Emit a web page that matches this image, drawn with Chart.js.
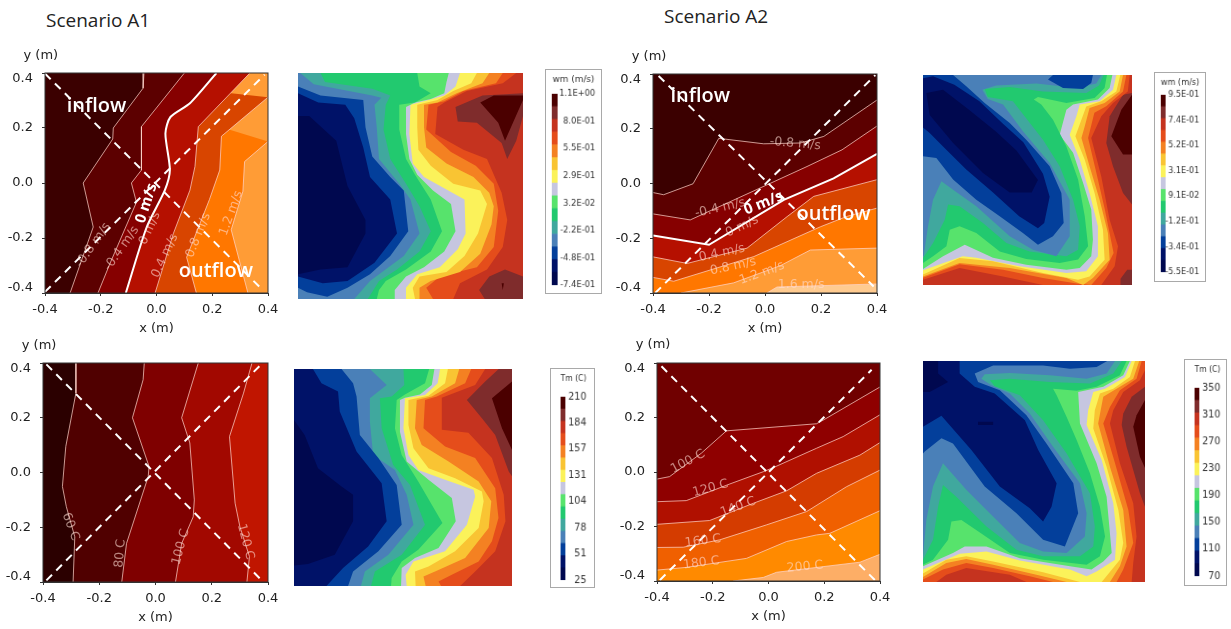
<!DOCTYPE html>
<html>
<head>
<meta charset="utf-8">
<title>Scenario A1 / A2</title>
<script src="https://cdn.jsdelivr.net/npm/chart.js"></script>
<style>
  html, body { margin: 0; background: #fff; }
  body { position: relative; width: 1231px; height: 629px; overflow: hidden; }
  canvas { position: absolute; filter: blur(0.45px); }
  canvas.key { border: 1px solid #a9a9a9; box-sizing: content-box; }
  .scenario { position: absolute; font: 19px "Open Sans", sans-serif; color: #222; }
</style>
</head>
<body>
<div class="scenario" style="left:46px;top:7px">Scenario A1</div>
<div class="scenario" style="left:664px;top:3px">Scenario A2</div>
<script>
// ---- axes and colour keys ----
const axisTicks = [-0.4, -0.2, 0, 0.2, 0.4];
const wA1Key = ['1.1E+00', '8.0E-01', '5.5E-01', '2.9E-01', '3.2E-02', '-2.2E-01', '-4.8E-01', '-7.4E-01'];
const wA2Key = ['9.5E-01', '7.4E-01', '5.2E-01', '3.1E-01', '9.1E-02', '-1.2E-01', '-3.4E-01', '-5.5E-01'];
const tA1Key = ['210', '184', '157', '131', '104', '78', '51', '25'];
const tA2Key = ['350', '310', '270', '230', '190', '150', '110', '70'];
const keyBands = ['#4b0000', '#7f2c2c', '#c5331f', '#e54d1b', '#f48122', '#f9c433', '#fbf25a', '#c6c6e0',
  '#57e36c', '#22c96f', '#40a89e', '#4a80b8', '#033f9b', '#001268', '#00084f'];

// colours of the left hand contour maps, lowest value first
const wHot = ['#3b0000', '#5c0000', '#860000', '#b51000', '#d84500', '#ff7700', '#ff9c36', '#ffcb90'];
const tA1Hot = ['#2b0000', '#500000', '#7f0000', '#a20800', '#c01500'];
const tA2Hot = ['#700000', '#8f0000', '#b01000', '#d43c00', '#f06000', '#ff8a00', '#fdae66'];

const metreSquare = [[-0.4, -0.4], [0.4, -0.4], [0.4, 0.4], [-0.4, 0.4]];
const percentSquare = [[0, 0], [100, 0], [100, 100], [0, 100]];

// ---- A1 velocity contours, x and y in metres ----
const wA1m08 = [[-0.045, 0.4], [-0.048, 0.345], [-0.155, 0.2], [-0.157, 0.16], [-0.263, 0], [-0.227, -0.16], [-0.31, -0.4]];
const wA1m04 = [[0.1, 0.4], [-0.054, 0.205], [-0.054, 0.047], [-0.09, 0], [-0.072, -0.07], [-0.167, -0.293], [-0.21, -0.4]];
const wA1z = [[0.215, 0.4], [0.12, 0.29], [0.05, 0.24], [0.032, 0.18], [0.048, 0.047], [0.03, -0.026], [-0.035, -0.16], [-0.11, -0.4]];
const wA1p04 = [[0.335, 0.4], [0.15, 0.205], [0.138, 0.06], [0.12, -0.026], [0.06, -0.185], [-0.005, -0.4]];
const wA1p08 = [[0.4, 0.312], [0.233, 0.17], [0.227, 0.047], [0.19, -0.06], [0.108, -0.27], [0.143, -0.4]];
const wA1p12 = [[0.4, 0.151], [0.316, 0.078], [0.31, -0.03], [0.268, -0.17], [0.328, -0.4]];
const wA1Diag1 = [[-0.4, 0.398], [0.37, -0.378]];
const wA1Diag2 = [[-0.4, -0.396], [0.388, 0.394]];

// ---- A2 velocity contours ----
const wA2m08 = [[-0.4, -0.033], [-0.362, -0.041], [-0.257, -0.001], [-0.165, 0.165], [-0.005, 0.145], [0.126, 0.148], [0.21, 0.172], [0.4, 0.305]];
const wA2m04 = [[-0.4, -0.111], [-0.267, -0.133], [0.007, -0.005], [0.15, 0.062], [0.275, 0.123], [0.4, 0.21]];
const wA2z = [[-0.4, -0.19], [-0.2, -0.224], [0.067, -0.06], [0.245, 0.019], [0.4, 0.108]];
const wA2p04 = [[-0.4, -0.268], [-0.278, -0.292], [-0.064, -0.236], [0.079, -0.121], [0.174, -0.047], [0.4, 0.014]];
const wA2p08 = [[-0.4, -0.343], [-0.326, -0.357], [-0.04, -0.267], [0.198, -0.158], [0.293, -0.12], [0.4, -0.09]];
const wA2p12 = [[-0.3, -0.4], [-0.112, -0.363], [0.055, -0.3], [0.162, -0.243], [0.4, -0.236]];
const wA2p16 = [[0.007, -0.4], [0.043, -0.378], [0.4, -0.367]];
const wA2Diag1 = [[-0.38, 0.393], [0.388, -0.376]];
const wA2Diag2 = [[-0.392, -0.4], [0.394, 0.396]];

// ---- A1 temperature contours ----
const tA1c60 = [[-0.283, 0.4], [-0.283, 0.29], [-0.319, 0.095], [-0.331, -0.051], [-0.317, -0.125], [-0.287, -0.235], [-0.293, -0.4]];
const tA1c80 = [[-0.04, 0.4], [-0.044, 0.339], [-0.082, 0.2], [-0.023, 0.022], [-0.026, -0.015], [-0.103, -0.259], [-0.12, -0.4]];
const tA1c100 = [[0.152, 0.4], [0.093, 0.2], [0.122, 0.108], [0.138, -0.1], [0.134, -0.162], [0.093, -0.259], [0.071, -0.4]];
const tA1c120 = [[0.343, 0.4], [0.313, 0.29], [0.263, 0.131], [0.283, -0.112], [0.3, -0.198], [0.334, -0.307], [0.325, -0.4]];
const tA1Diag1 = [[-0.388, 0.395], [0.372, -0.388]];
const tA1Diag2 = [[-0.388, -0.394], [0.372, 0.391]];

// ---- A2 temperature contours ----
const tA2c100 = [[-0.4, -0.026], [-0.355, -0.017], [-0.241, 0.069], [-0.151, 0.151], [0.172, 0.177], [0.199, 0.192], [0.4, 0.312]];
const tA2c120 = [[-0.4, -0.109], [-0.295, -0.105], [-0.139, -0.044], [-0.019, 0.001], [0.017, 0.016], [0.172, 0.087], [0.268, 0.13], [0.4, 0.21]];
const tA2c140 = [[-0.4, -0.192], [-0.211, -0.178], [-0.055, -0.115], [0.065, -0.069], [0.172, -0.005], [0.328, 0.062], [0.4, 0.108]];
const tA2c160 = [[-0.4, -0.277], [-0.306, -0.276], [-0.175, -0.249], [-0.007, -0.194], [0.137, -0.145], [0.28, -0.054], [0.4, 0.007]];
const tA2c180 = [[-0.4, -0.36], [-0.295, -0.35], [-0.079, -0.317], [0.065, -0.255], [0.172, -0.231], [0.22, -0.225], [0.4, -0.142]];
const tA2c200 = [[-0.127, -0.4], [-0.019, -0.387], [0.029, -0.368], [0.328, -0.331], [0.4, -0.302]];
const tA2Diag1 = [[-0.384, 0.388], [0.382, -0.397]];
const tA2Diag2 = [[-0.39, -0.397], [0.37, 0.375]];

// ---- contour labels: text, x, y, rotation, kind ----
const wA1Notes = [['y (m)', -0.415, 0.465, 0, 'axis'], ['inflow', -0.215, 0.278, 0, 'flow'], ['outflow', 0.213, -0.32, 0, 'flow'],
  ['0 m/s', -0.036, -0.074, -72, 'zero'], ['-0.8 m/s', -0.227, -0.226, -55, 'iso'], ['-0.4 m/s', -0.125, -0.238, -55, 'iso'],
  ['0 m/s', -0.024, -0.165, -65, 'iso'], ['0.4 m/s', 0.03, -0.265, -65, 'iso'], ['0.8 m/s', 0.15, -0.19, -68, 'iso'], ['1.2 m/s', 0.268, -0.11, -70, 'iso']];
const wA2Notes = [['y (m)', -0.414, 0.464, 0, 'axis'], ['inflow', -0.231, 0.32, 0, 'flow'], ['outflow', 0.245, -0.114, 0, 'flow'],
  ['0 m/s', -0.005, -0.072, -22, 'zero'], ['-0.8 m/s', 0.108, 0.145, 5, 'iso'], ['-0.4 m/s', -0.16, -0.09, -13, 'iso'],
  ['0 m/s', -0.082, -0.157, -25, 'iso'], ['0.4 m/s', -0.154, -0.254, -12, 'iso'], ['0.8 m/s', -0.114, -0.303, -12, 'iso'],
  ['1.2 m/s', -0.011, -0.327, -20, 'iso'], ['1.6 m/s', 0.129, -0.37, 0, 'iso']];
const tA1Notes = [['y (m)', -0.414, 0.462, 0, 'axis'], ['60 C', -0.302, -0.198, 70, 'iso'], ['80 C', -0.125, -0.296, -85, 'iso'],
  ['100 C', 0.09, -0.272, -75, 'iso'], ['120 C', 0.32, -0.253, 75, 'iso']];
const tA2Notes = [['y (m)', -0.414, 0.466, 0, 'axis'], ['100 C', -0.289, 0.038, -28, 'iso'], ['120 C', -0.208, -0.06, -15, 'iso'],
  ['140 C', -0.109, -0.128, -20, 'iso'], ['160 C', -0.235, -0.253, -7, 'iso'], ['180 C', -0.241, -0.334, -7, 'iso'], ['200 C', 0.131, -0.348, -5, 'iso']];

// ---- filled maps on the right, percent of the frame from top left ----
const wA1Darkest = [[0,19],[5,19],[17,30],[22,50],[30,65],[30,71],[22,86],[10,87],[0,89]];
const wA1Navy = [[0,9],[9,13],[21,14],[25,20],[29,33],[32,46],[41,56],[44,71],[34,84],[22,92],[11,93],[0,90]];
const wA1Blue = [[0,6],[10,10],[29,12],[30,24],[33,37],[41,46],[47,52],[49,70],[41,81],[32,89],[22,95],[13,99],[4,97],[0,95]];
const wA1Steel = [[1,0],[7,5],[33,10],[37,11],[34,14],[35,24],[36,38],[45,49],[50,56],[54,71],[47,81],[32,92],[25,100]];
const wA1Teal = [[10,0],[12,4],[33,7],[41,10],[39,14],[38,25],[41,38],[48,49],[54,59],[59,70],[54,79],[44,87],[36,92],[31,100]];
const wA1Green = [[53,0],[54,6],[59,9],[52,13],[45,14],[45,25],[48,38],[52,45],[59,56],[64,70],[59,79],[48,87],[39,92],[36,96],[35,100]];
const wA1Light = [[67,0],[66,4],[65,9],[59,11.5],[52,13],[48,15],[48,27],[49.5,38],[53,45],[60,52],[68,58],[70,70],[65,79],[56,86],[48,90],[43,96],[43,100]];
const wA1Lav = [[72,0],[70,6],[65,10],[58,12],[50,14],[49.5,27],[51,40],[56,46],[65,51],[74,56],[74.5,71],[71,78],[63,86],[53,89],[48,95],[48,100]];
const wA1Yellow = [[79.5,0],[77,4.5],[69,8],[62,12],[53,14],[53,24],[53.5,34],[59,41],[69,49],[81,52],[84,58],[80,71],[74,81],[66,88],[54,90],[51,95],[52,100]];
const wA1Amber = [[85,0],[82,4.5],[70.5,9],[62,13],[56,14],[56,24],[57,33],[66,40],[78,46],[85,53],[87,59],[86,67],[81,80],[72,88],[59,92],[54,95],[54,100]];
const wA1Orange = [[91,0],[88,4.5],[73.5,8],[65,12.5],[58,14],[57,25],[68,35],[79,41],[87,49],[89,61],[87,77],[79.5,86],[63,90],[57,95],[60,100]];
const wA1Ember = [[97,0],[91,4.5],[75,8],[65,13],[62,15],[61,27],[73.5,34],[84,38],[90.5,53],[93,65],[91,77],[84,87],[72,93],[69,100]];
const wA1Brown = [[70,15],[82,10],[100,9],[100,19],[97,30],[93,38],[90.5,31],[79.5,22],[71,21.5]];
const wA1Maroon = [[81,13],[87,10],[100,10],[100,12],[92,30],[89,22]];
const wA1BrownLow = [[80.5,96],[85,90],[92,87],[100,90],[100,100],[83,100]];
const wA1Drop = [[90.5,93],[91.5,93],[91,96]];

const wA2Darkest = [[1.6,8.6],[9.6,7],[22,16.5],[35,27],[44.7,36],[55,50],[52,56],[41.5,56],[28.7,46.7],[14.4,32.4],[3.2,19]];
const wA2Navy = [[0,1.5],[4.8,0.6],[15,4.6],[27,12.5],[38,23],[48,32],[57.4,47],[60.6,58],[58,70.5],[55,73],[46,67.3],[33.5,56],[20.7,45],[9.6,34],[3.2,27.6],[0,25]];
const wA2Blue = [[14.4,0],[20.7,5.4],[29.5,13.3],[41.5,22.9],[49.4,30.8],[60.6,43.5],[66.2,56.2],[67.3,70.5],[62.2,76.8],[55,80.8],[47.8,75.2],[36.7,67.3],[25.5,59.4],[14.4,49.8],[6.4,39.5],[0,38.7]];
const wA2BlueTop = [[59.8,2.2],[62.2,0],[81.3,0],[80.5,3.8],[76.6,6.7],[67,6.2]];
const wA2Steel = [[85.3,0],[82.9,4.1],[73.4,6.2],[54.2,4.1],[35,5],[28.4,7],[31,11.4],[38.3,14.1],[47.8,26.8],[60.6,41.9],[70.2,59.4],[70.2,76.8],[63.8,86.3],[52.6,83.2],[41.5,76.8],[25.5,62.5],[14.4,54.6],[8.8,50.6],[4.8,59.4],[2.4,72],[0.3,86.3]];
const wA2Teal = [[86.4,0],[84.2,5],[78.1,8.6],[57.4,7.8],[41.5,5.7],[29.5,6.7],[31,10.5],[43,12.5],[48.6,19.7],[57.4,30.8],[65.4,43.5],[71.8,59.4],[75,72],[74.2,83.2],[68.6,86.3],[51,84],[39.9,80],[28.7,70.5],[17.5,62.5],[12,61.7],[10.4,68.9],[4.8,80],[0,87.1]];
const wA2Green = [[88,0],[86.9,6.2],[82.1,11],[68.6,13.3],[55,10.5],[53,11.7],[56.6,14.1],[62.2,21.3],[68.6,34],[74.2,49.8],[77.4,67.3],[79,81.6],[74.2,87.9],[65.4,89.5],[49.4,87.6],[36.7,84],[25.5,75.2],[17.5,72],[12.8,73.7],[11.2,81.6],[4.8,86.3],[0,89.5]];
const wA2Light = [[90.6,0],[89.3,6.2],[83.7,11.7],[71.8,14.1],[68.6,16.5],[65.4,28.4],[71.8,37],[76.6,51.4],[80.5,64],[81.3,78.4],[80.5,86.3],[75,91.9],[68.6,92.7],[49.4,90.3],[33.5,87],[20,80.8],[9.6,86.3],[0,92.4]];
const wA2Lav = [[92.5,0],[90.9,7],[84.5,12.5],[75,14.1],[73.4,19.7],[70.2,28.4],[75,40.3],[79.7,56.2],[83.7,72],[83.7,86.3],[78.1,93.5],[68.6,94.3],[46.3,91.1],[25.5,87],[19,86.3],[0,93]];
const wA2Yellow = [[94.4,0],[92.5,7.8],[85.3,12.5],[78.1,15],[75.8,21.3],[72.9,29.2],[77.4,40.3],[82.1,56.2],[86.1,73.7],[86.9,88],[79.7,95.9],[74.2,97.5],[57.4,94.3],[33.5,88.7],[17.5,87.1],[0,95]];
const wA2Amber = [[95.7,0],[94.1,7.8],[86.9,13.3],[79.7,15.7],[77.4,24.4],[75.8,30],[79.7,43.5],[84.5,59.4],[88.5,75.2],[89.3,88],[81.3,96.7],[76.6,100],[68.6,96.7],[41.5,91.9],[17.5,89.5],[0,95.9]];
const wA2Orange = [[97.3,0],[95.7,7.8],[87.7,14.9],[82,18],[79,30],[83,46.8],[87,64],[91.2,84.8],[87.7,91.9],[80.5,100],[74.2,99.4],[57.4,96.7],[38.3,92.7],[17.5,90.1],[0,96.5]];
const wA2Ember = [[98.9,0],[98,7.8],[90.9,13.3],[85.3,19.7],[80.5,30],[85.3,48.3],[89.3,68.9],[93.3,81.6],[91.7,91.1],[85.3,100],[71.8,100],[57.4,100],[38.3,95.9],[17.5,91.9],[0,97.5]];
const wA2Brown = [[95.7,9.4],[89.3,19.7],[87.7,32.4],[90.9,43.5],[95.7,56.2],[100,61.7],[100,8.6]];
const wA2Maroon = [[100,9.4],[94.9,16.5],[90.1,29.2],[95.7,37.9],[100,37.9]];
const wA2BrownLow = [[94.5,97],[97.7,92.7],[100,92.7],[100,100],[94.5,100]];

const tA1Darkest = [[0,23.5],[4.9,30.4],[11,45.7],[21.8,54.1],[27.1,58],[27.1,70.2],[18.7,85.6],[6.4,89.9],[0,90.5]];
const tA1Navy = [[8.7,0],[12.6,6.6],[20.2,10.4],[21,19.6],[28.7,38],[40.2,52.6],[42.5,70.2],[34,81.8],[22.5,91.7],[14.9,100]];
const tA1Blue = [[21.8,0],[27.1,6.6],[28.7,12.7],[30.2,30.4],[38.7,41],[47.1,53.4],[49.4,71.8],[38.7,84],[27.1,93.3],[24.8,100]];
const tA1Steel = [[34.8,0],[42.5,7.4],[34.8,13.5],[34.8,24.2],[36.3,39.6],[46.3,46.5],[51.7,58],[54.8,71.8],[43.3,85.6],[32.5,93.3],[30.7,100]];
const tA1Teal = [[50.2,0],[50.6,7.4],[44.8,12.7],[39.4,13.5],[40.2,27.3],[45.5,44.2],[53.2,53.4],[60.1,71.8],[49.4,85.6],[37.1,93.3],[35.3,100]];
const tA1Green = [[62,0],[60.1,6.6],[50.9,11.7],[47.1,14.3],[46.3,27.3],[49.4,39.6],[57,51.8],[68.1,71],[57,83.3],[49.4,88.7],[44.8,96.3],[44.5,100]];
const tA1Light = [[64.4,0],[63.2,7.4],[57.8,11.7],[50.9,13.2],[48.6,14.3],[48.6,28.9],[51.7,42.6],[61.7,51],[72.4,59.5],[74.2,70.2],[66.3,82.5],[55.5,87.1],[49.4,91.7],[49.1,100]];
const tA1Lav = [[67,0],[65.9,6.6],[60.1,12],[50.9,13.5],[50.2,27.3],[52.5,39.6],[57,46.5],[69.3,51],[82.4,55.7],[83.1,58.8],[79.3,71.8],[69.3,84],[54.8,88.7],[51.2,94.8],[51.7,100]];
const tA1Yellow = [[70.6,0],[69.3,6.6],[61.7,12.3],[52.5,14.3],[52.5,25.8],[54.8,36.5],[61.7,45.7],[73.9,50.3],[86.2,56.4],[87,61],[84.7,73.3],[73.9,84],[61.7,91],[55.5,93.3],[55.8,100]];
const tA1Amber = [[75.8,0],[73.9,6.6],[63.2,12.7],[56.3,14.3],[55.5,27.3],[58.6,35],[70.9,42.6],[84.7,51.8],[90.5,61],[89.3,73.3],[78.5,87.1],[64.7,93.3],[59.4,95.6],[60.4,100]];
const tA1Orange = [[81.3,0],[78.5,6.6],[65.5,12.7],[60.1,14.3],[59.4,27.3],[69.3,35.7],[83.1,41],[92.3,54.9],[93.8,68.7],[90.8,79.4],[84.7,88.7],[72.4,94.8],[66.3,97.9],[67.5,100]];
const tA1Ember = [[87.7,0],[83.1,7.4],[67.8,13.2],[67.8,28],[80,29.4],[90.8,41],[96.2,57.9],[97,70.2],[92.3,84],[83.1,93.3],[76.2,100]];
const tA1Brown = [[93.9,0],[87.7,5.8],[79.3,14.3],[86.2,22.7],[92.3,30.4],[98.5,47.2],[100,49.4],[100,0]];
const tA1Maroon = [[100,5.8],[90.8,13.5],[95.4,27.3],[100,37.3]];

const tA2Dark1 = [[0,0],[6.8,0],[6.8,5.7],[11.3,9.5],[3,14],[0,14]];
const tA2Dark2 = [[24.8,27.5],[31.6,27.5],[31.6,29],[24.8,29]];
const tA2Navy = [[16.5,0],[16.5,5.7],[23.3,11.7],[32.3,14.7],[45.9,26.8],[51.9,40.3],[60.2,55.3],[57.9,65.9],[54.1,72.6],[48.1,66.6],[34.6,56.8],[21.8,40.3],[8.3,24.8],[0,29.8]];
const tA2Blue = [[83,0],[78.2,2.7],[66.2,3.5],[54.1,2],[31.6,2],[23.3,5.7],[24.8,9.5],[34.6,13.2],[46.6,24.5],[55.6,37.3],[67.7,55.3],[69.9,68.9],[63.9,83.9],[54.1,80.9],[42.1,68.9],[27.8,56.8],[13.5,37.3],[8.3,35],[0.8,41],[0,41.8]];
const tA2Steel = [[86.5,0],[82.7,5.7],[73.7,8],[57.1,6.5],[39.1,5.4],[27.8,6],[26.3,8],[30.8,11],[39.1,14.7],[48.1,23.8],[58.6,38.8],[70.7,55.3],[73.7,68.9],[72.9,79.4],[64.7,86.9],[54.1,86.2],[43.6,82.4],[30.1,68.9],[19.5,58.3],[9,46.3],[4.5,56.8],[1.5,71.9],[0,88.4]];
const tA2Teal = [[89.5,0],[85.7,5.7],[75.2,10.2],[57.1,9.5],[39.1,8],[30.1,8.7],[32.3,11.4],[43.6,15.5],[54.1,26.8],[64.7,41.8],[75.2,59.8],[77.4,74.9],[76.7,83.9],[70.7,88.4],[54.1,88.4],[42.1,85.4],[28.6,74.9],[15,61.4],[9,56.1],[6.8,65.9],[4.5,80.9],[0,89.9]];
const tA2Green = [[91.7,0],[88.7,6.5],[78.2,11.7],[69.2,13.5],[58.6,12.5],[60.2,15.5],[64.7,25.3],[69.2,35.8],[75.2,50.8],[79.7,65.9],[82,79.4],[79.7,88.4],[73.7,92.2],[54.1,89.9],[39.1,86.9],[27.1,78.6],[17.3,71.9],[12.8,72.6],[11.3,80.9],[4.5,89.9],[0,92.2]];
const tA2Light = [[93.2,0],[90.2,6.5],[81.2,11.7],[69.9,14],[70.7,28.3],[78.2,46.3],[82.7,61.4],[84.2,77.9],[85,86.9],[81.2,90.7],[75.9,94.4],[66.2,92.9],[43.6,89.2],[28.6,83.9],[18.8,83.9],[13.5,86.9],[0,92.9]];
const tA2Lav = [[94,0],[91,7.2],[82,12.5],[76.7,14],[74.4,22.3],[73.7,29],[80.5,44.8],[85.7,64.4],[87.2,77.9],[86.5,89.9],[78.2,95.2],[73.7,97.4],[66.2,94.4],[43.6,90.3],[28.6,86.2],[16.5,87.2],[0,94.4]];
const tA2Yellow = [[95.5,0],[93.2,7.2],[85.7,12.5],[79.7,14.7],[77.4,22.3],[76.7,30.5],[82.7,47.8],[88,67.4],[90.2,82.4],[88.7,89.9],[80.5,100],[70.7,100],[54.1,95.6],[31.6,90.7],[19.5,88.4],[10.5,89.9],[0,96.2]];
const tA2Amber = [[97.4,0],[94.7,8],[87.2,12.5],[81.2,16.2],[78.9,28.3],[84.2,47.8],[90.2,67.4],[91.7,83.9],[88.7,92.9],[84.2,100],[64.7,100],[51.1,96.7],[31.6,92.2],[19.5,89.6],[10.5,91.4],[0,97.7]];
const tA2Orange = [[98.5,0],[96.2,8],[88.7,13.2],[84.2,20.8],[81.2,28.3],[86.5,46.3],[92.5,67.4],[94.7,82.4],[90.2,94.4],[87.2,100],[58.6,100],[48.1,97.4],[31.6,93.7],[19.5,91.4],[9,94.4],[0,98.9]];
const tA2Ember = [[100,0],[100,4.2],[97.7,8.7],[90.2,14],[85.7,22.3],[84.2,28.3],[88.7,46.3],[94.7,64.4],[96.2,79.4],[94.7,91.4],[94,100],[46.6,100],[39.1,96.7],[19.5,93.7],[10.5,96.7],[6,100],[0,100]];
const tA2Brown = [[100,11.7],[94,16.2],[90.2,23.8],[89.5,29],[91.7,38.8],[97.7,59.8],[100,65.9]];
const tA2Maroon = [[100,17.7],[96.2,24.5],[94.7,29.8],[97.7,43.3],[100,48.4]];

// ---- helpers ----
Chart.defaults.animation = false;
Chart.defaults.responsive = false;
Chart.defaults.devicePixelRatio = 1;
Chart.defaults.font.family = '"DejaVu Sans", sans-serif';
Chart.defaults.color = '#222';

function addCanvas(left, top, w, h, cls) {
    const c = document.createElement('canvas');
    c.width = w;
    c.height = h;
    c.style.left = left + 'px';
    c.style.top = top + 'px';
    if (cls) c.className = cls;
    document.body.appendChild(c);
    return c;
}

function area(points, color) {
    return { data: points, backgroundColor: color, showLine: true, fill: 'shape', borderWidth: 0, pointRadius: 0 };
}

function contour(points, color, width, dash, tension) {
    return { data: points, borderColor: color, borderWidth: width, borderDash: dash || [], tension: tension || 0, showLine: true, fill: false, pointRadius: 0 };
}

const noteStyles = {
    axis: { font: '13px "DejaVu Sans"', color: '#222' },
    flow: { font: '600 20px "Open Sans"', color: '#fff' },
    zero: { font: 'bold 15px "Open Sans"', color: '#fff' },
    iso: { font: '12.5px "DejaVu Sans"', color: 'rgba(255,222,212,0.6)' }
};

// rotated labels and the plot frame, placed through the chart scales
function notesPlugin(notes) {
    return {
        id: 'notes',
        afterDraw(chart) {
            const { ctx, scales, chartArea: a } = chart;
            ctx.save();
            ctx.strokeStyle = '#333';
            ctx.lineWidth = 1;
            ctx.strokeRect(a.left, a.top, a.right - a.left, a.bottom - a.top);
            ctx.textAlign = 'center';
            ctx.textBaseline = 'middle';
            notes.forEach(([text, x, y, rot, kind]) => {
                ctx.save();
                ctx.translate(scales.x.getPixelForValue(x), scales.y.getPixelForValue(y));
                ctx.rotate(rot * Math.PI / 180);
                ctx.font = noteStyles[kind].font;
                ctx.fillStyle = noteStyles[kind].color;
                ctx.fillText(text, 0, 0);
                ctx.restore();
            });
            ctx.restore();
        }
    };
}

// first and last y label sit inside the frame, an empty line pushes them in
function yLabel(v) {
    if (v === 0.4) return ['', '0.4'];
    if (v === -0.4) return ['-0.4', ''];
    return v.toFixed(1);
}

function metreAxis(title, size) {
    return {
        type: 'linear', min: -0.4, max: 0.4,
        afterBuildTicks: s => { s.ticks = axisTicks.map(v => ({ value: v })); },
        afterFit: s => { if (s.isHorizontal()) s.height = size; else s.width = size; },
        border: { color: '#333' },
        grid: { drawOnChartArea: false, tickLength: 3, color: '#333' },
        ticks: { font: { size: 13, lineHeight: title ? 1.2 : 0.85 }, padding: title ? 6 : 9, maxRotation: 0, callback: title ? v => v.toFixed(1) : yLabel },
        title: { display: !!title, text: title, font: { size: 13 }, padding: { top: 2, bottom: 3 }, color: '#222' }
    };
}

// left hand map with axes; frame is left, top, right, bottom of the plot
function contourMap(frame, areas, lines, notes) {
    const [l, t, r, b] = frame;
    const canvas = addCanvas(0 + l - 45, t - 32, r - l + 45 + 22, b - t + 32 + 46);
    new Chart(canvas, {
        type: 'scatter',
        data: { datasets: [...areas, ...lines].reverse() },
        options: {
            layout: { padding: { top: 32, right: 22 } },
            plugins: { legend: { display: false }, tooltip: { enabled: false } },
            scales: { x: metreAxis('x (m)', 46), y: metreAxis('', 45) }
        },
        plugins: [notesPlugin(notes)]
    });
}

// right hand map, no axes on show
function fieldMap(frame, layers) {
    const [l, t, r, b] = frame;
    const canvas = addCanvas(l, t, r - l, b - t);
    new Chart(canvas, {
        type: 'scatter',
        data: { datasets: layers.slice().reverse() },
        options: {
            layout: { padding: 0 },
            plugins: { legend: { display: false }, tooltip: { enabled: false } },
            scales: {
                x: { display: false, min: 0, max: 100 },
                y: { display: false, min: 0, max: 100, reverse: true }
            }
        }
    });
}

// colour key: box is left, top, width, height; bar is offset, width, top offset, height, right gap
function colourKey(box, bar, title, labels, fontSize, titleSize) {
    const [l, t, w, h] = box;
    const [bx, bw, by, bh, gap] = bar;
    const canvas = addCanvas(l, t, w, h, 'key');
    const lineH = titleSize * 1.2;
    const titleTop = 4;
    new Chart(canvas, {
        type: 'bar',
        data: {
            labels: [''],
            datasets: keyBands.slice().reverse().map(c => ({ data: [7 / keyBands.length], backgroundColor: c, barPercentage: 1, categoryPercentage: 1 }))
        },
        options: {
            layout: { padding: { left: bx, right: gap, bottom: h - by - bh } },
            plugins: {
                legend: { display: false },
                tooltip: { enabled: false },
                title: { display: true, text: title, color: '#333', font: { size: titleSize, weight: 'normal' }, padding: { top: titleTop, bottom: by - titleTop - lineH } }
            },
            scales: {
                x: { display: false, stacked: true },
                y: {
                    stacked: true, position: 'right', min: 0, max: 7,
                    afterBuildTicks: s => { s.ticks = labels.map((_, i) => ({ value: i })); },
                    afterFit: s => { s.width = w - bx - bw - gap; },
                    grid: { display: false },
                    border: { display: false },
                    ticks: { font: { size: fontSize }, color: '#333', padding: 1, crossAlign: 'far', callback: v => labels[7 - v] }
                }
            }
        }
    });
}

const lineTint = 'rgba(255,212,202,0.72)';
const white = '#ffffff';
const dashed = [8, 6];

function leftOf(c) { return [...c, [-0.4, -0.4], [-0.4, 0.4]]; }
function above(c) { return [...c, [0.4, 0.4], [-0.4, 0.4], [-0.4, -0.4]]; }
function toLeft(c) { return [...c, [0, 100], [0, 0]]; }
function toCorner(c) { return [...c, [0, 0]]; }

// ---- top row ----
contourMap([45, 73, 268, 293],
    [area(metreSquare, wHot[6]), area(leftOf(wA1p12), wHot[5]), area(leftOf(wA1p08), wHot[4]), area(leftOf(wA1p04), wHot[3]),
     area(leftOf(wA1z), wHot[2]), area(leftOf(wA1m04), wHot[1]), area(leftOf(wA1m08), wHot[0])],
    [contour(wA1m08, lineTint, 1), contour(wA1m04, lineTint, 1), contour(wA1p04, lineTint, 1), contour(wA1p08, lineTint, 1), contour(wA1p12, lineTint, 1),
     contour(wA1z, white, 2, null, 0.25), contour(wA1Diag1, white, 2, dashed), contour(wA1Diag2, white, 2, dashed)],
    wA1Notes);

fieldMap([298, 73, 523, 299], [
    area(percentSquare, keyBands[2]), area(wA1Brown, keyBands[1]), area(wA1BrownLow, keyBands[1]), area(wA1Maroon, keyBands[0]), area(wA1Drop, keyBands[0]),
    area(toLeft(wA1Ember), keyBands[3]), area(toLeft(wA1Orange), keyBands[4]), area(toLeft(wA1Amber), keyBands[5]), area(toLeft(wA1Yellow), keyBands[6]),
    area(toLeft(wA1Lav), keyBands[7]), area(toLeft(wA1Light), keyBands[8]), area(toLeft(wA1Green), keyBands[9]), area(toLeft(wA1Teal), keyBands[10]),
    area(toLeft(wA1Steel), keyBands[11]), area(toLeft(wA1Blue), keyBands[12]), area(toLeft(wA1Navy), keyBands[13]), area(toLeft(wA1Darkest), keyBands[14])
]);
colourKey([545, 69, 57, 225], [6, 6, 24, 193, 6], 'wm (m/s)', wA1Key, 8.6, 9.2);

contourMap([653, 74, 877, 293],
    [area(metreSquare, wHot[7]), area(above(wA2p16), wHot[6]), area(above(wA2p12), wHot[5]), area(above(wA2p08), wHot[4]), area(above(wA2p04), wHot[3]),
     area(above(wA2z), wHot[2]), area(above(wA2m04), wHot[1]), area(above(wA2m08), wHot[0])],
    [contour(wA2m08, lineTint, 1), contour(wA2m04, lineTint, 1), contour(wA2p04, lineTint, 1), contour(wA2p08, lineTint, 1), contour(wA2p12, lineTint, 1), contour(wA2p16, lineTint, 1),
     contour(wA2z, white, 2), contour(wA2Diag1, white, 2, dashed), contour(wA2Diag2, white, 2, dashed)],
    wA2Notes);

fieldMap([923, 75, 1132, 285], [
    area(percentSquare, keyBands[2]), area(wA2Brown, keyBands[1]), area(wA2BrownLow, keyBands[1]), area(wA2Maroon, keyBands[0]),
    area(toCorner(wA2Ember), keyBands[3]), area(toCorner(wA2Orange), keyBands[4]), area(toCorner(wA2Amber), keyBands[5]), area(toCorner(wA2Yellow), keyBands[6]),
    area(toCorner(wA2Lav), keyBands[7]), area(toCorner(wA2Light), keyBands[8]), area(toCorner(wA2Green), keyBands[9]), area(toCorner(wA2Teal), keyBands[10]),
    area(toCorner(wA2Steel), keyBands[11]), area(toCorner(wA2Blue), keyBands[12]), area(wA2BlueTop, keyBands[12]),
    area(toCorner(wA2Navy), keyBands[13]), area(wA2Darkest, keyBands[14])
]);
colourKey([1154, 72, 52, 210], [6, 5, 22, 179, 6], 'wm (m/s)', wA2Key, 8.4, 9);

// ---- bottom row ----
contourMap([43, 363, 268, 582],
    [area(metreSquare, tA1Hot[4]), area(leftOf(tA1c120), tA1Hot[3]), area(leftOf(tA1c100), tA1Hot[2]), area(leftOf(tA1c80), tA1Hot[1]), area(leftOf(tA1c60), tA1Hot[0])],
    [contour(tA1c60, lineTint, 1), contour(tA1c80, lineTint, 1), contour(tA1c100, lineTint, 1), contour(tA1c120, lineTint, 1),
     contour(tA1Diag1, white, 2, dashed), contour(tA1Diag2, white, 2, dashed)],
    tA1Notes);

fieldMap([294, 369, 512, 586], [
    area(percentSquare, keyBands[2]), area(tA1Brown, keyBands[1]), area(tA1Maroon, keyBands[0]),
    area(toLeft(tA1Ember), keyBands[3]), area(toLeft(tA1Orange), keyBands[4]), area(toLeft(tA1Amber), keyBands[5]), area(toLeft(tA1Yellow), keyBands[6]),
    area(toLeft(tA1Lav), keyBands[7]), area(toLeft(tA1Light), keyBands[8]), area(toLeft(tA1Green), keyBands[9]), area(toLeft(tA1Teal), keyBands[10]),
    area(toLeft(tA1Steel), keyBands[11]), area(toLeft(tA1Blue), keyBands[12]), area(toLeft(tA1Navy), keyBands[13]), area(toLeft(tA1Darkest), keyBands[14])
]);
colourKey([550, 368, 45, 220], [10, 5, 28, 185, 8], 'Tm (C)', tA1Key, 10, 9.5);

contourMap([657, 363, 880, 581],
    [area(metreSquare, tA2Hot[6]), area(above(tA2c200), tA2Hot[5]), area(above(tA2c180), tA2Hot[4]), area(above(tA2c160), tA2Hot[3]),
     area(above(tA2c140), tA2Hot[2]), area(above(tA2c120), tA2Hot[1]), area(above(tA2c100), tA2Hot[0])],
    [contour(tA2c100, lineTint, 1), contour(tA2c120, lineTint, 1), contour(tA2c140, lineTint, 1), contour(tA2c160, lineTint, 1), contour(tA2c180, lineTint, 1), contour(tA2c200, lineTint, 1),
     contour(tA2Diag1, white, 2, dashed), contour(tA2Diag2, white, 2, dashed)],
    tA2Notes);

fieldMap([923, 361, 1145, 582], [
    area(percentSquare, keyBands[2]), area(tA2Brown, keyBands[1]), area(tA2Maroon, keyBands[0]),
    area(toCorner(tA2Ember), keyBands[3]), area(toCorner(tA2Orange), keyBands[4]), area(toCorner(tA2Amber), keyBands[5]), area(toCorner(tA2Yellow), keyBands[6]),
    area(toCorner(tA2Lav), keyBands[7]), area(toCorner(tA2Light), keyBands[8]), area(toCorner(tA2Green), keyBands[9]), area(toCorner(tA2Teal), keyBands[10]),
    area(toCorner(tA2Steel), keyBands[11]), area(toCorner(tA2Blue), keyBands[12]), area(toCorner(tA2Navy), keyBands[13]),
    area(tA2Dark1, keyBands[14]), area(tA2Dark2, keyBands[14])
]);
colourKey([1184, 359, 43, 227], [10, 5, 28, 190, 6], 'Tm (C)', tA2Key, 10, 9.5);
</script>
</body>
</html>
